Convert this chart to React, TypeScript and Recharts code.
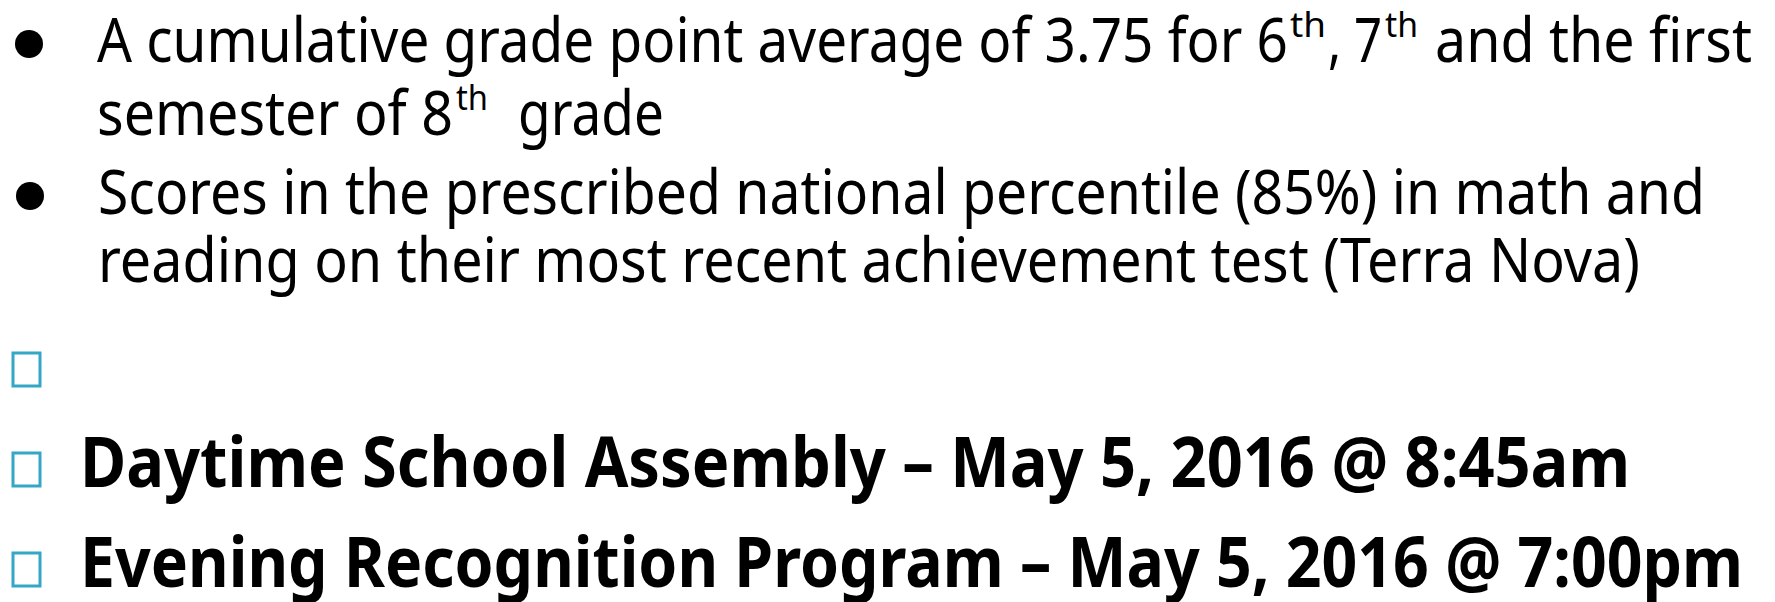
import React from "react";
import { ScatterChart, Scatter, XAxis, YAxis } from "recharts";

const WIDTH = 1775;
const HEIGHT = 602;

// slide text ("^" wraps a superscript)
const criteriaLines = [
  "A cumulative grade point average of 3.75 for 6^th^, 7^th^ and the first",
  "semester of 8^th^  grade",
  "Scores in the prescribed national percentile (85%) in math and",
  "reading on their most recent achievement test (Terra Nova)",
];
const criteriaMarkers = ["bullet", "none", "bullet", "none"];

const eventLines = [
  "",
  "Daytime School Assembly – May 5, 2016 @ 8:45am",
  "Evening Recognition Program – May 5, 2016 @ 7:00pm",
];
const eventMarkers = ["box", "box", "box"];

// layout (kept apart from the text): [start, end] of each text segment
const criteriaBaselines = [62, 135, 214, 282];
const criteriaSpans = [
  [[97, 1288], [1290, 1326], [1328, 1382], [1385, 1418], [1435, 1752]],
  [[97, 453], [456, 488], [518, 664]],
  [[98, 1705]],
  [[98, 1640]],
];
const eventBaselines = [387, 487, 587];
const eventSpans = [[[80, 80]], [[80, 1630]], [[80, 1743]]];

const BOX_COLOR = "#34A7C6";
const FONT = "'Noto Sans', 'Open Sans', sans-serif";

type Row = {
  x: number;
  y: number;
  text: string;
  marker: string;
  spans: number[][];
  bold: boolean;
};

const rows: Row[] = [
  ...criteriaLines.map((text, i) => ({
    x: criteriaSpans[i][0][0],
    y: criteriaBaselines[i],
    text,
    marker: criteriaMarkers[i],
    spans: criteriaSpans[i],
    bold: false,
  })),
  ...eventLines.map((text, i) => ({
    x: eventSpans[i][0][0],
    y: eventBaselines[i],
    text,
    marker: eventMarkers[i],
    spans: eventSpans[i],
    bold: true,
  })),
];

function SlideRow(props: any) {
  const { cx, cy, payload } = props;
  const row = payload as Row;
  const size = row.bold ? 70 : 62;
  const parts = row.text ? row.text.split("^") : [];

  return (
    <g>
      {row.marker === "bullet" && <circle cx={cx - 68} cy={cy - 18} r={14} fill="#000" />}
      {row.marker === "box" && (
        <rect
          x={cx - 67}
          y={cy - 34}
          width={27}
          height={33}
          fill="none"
          stroke={BOX_COLOR}
          strokeWidth={3}
        />
      )}
      {parts.map((p, i) => {
        const [a, b] = row.spans[i];
        const sup = i % 2 === 1;
        return (
          <text
            key={i}
            x={cx + (a - row.x)}
            y={sup ? cy - 25 : cy}
            fontFamily={FONT}
            fontSize={sup ? 34 : size}
            fontWeight={row.bold ? 700 : 400}
            fill="#000"
            textLength={b - a}
            lengthAdjust="spacingAndGlyphs"
          >
            {p.trim()}
          </text>
        );
      })}
    </g>
  );
}

export default function App() {
  return (
    <div style={{ position: "absolute", left: 0, top: 0, background: "#fff" }}>
      <ScatterChart width={WIDTH} height={HEIGHT} margin={{ top: 0, right: 0, bottom: 0, left: 0 }}>
        <XAxis type="number" dataKey="x" domain={[0, WIDTH]} hide />
        <YAxis type="number" dataKey="y" domain={[0, HEIGHT]} reversed hide />
        <Scatter data={rows} shape={<SlideRow />} isAnimationActive={false} />
      </ScatterChart>
    </div>
  );
}
